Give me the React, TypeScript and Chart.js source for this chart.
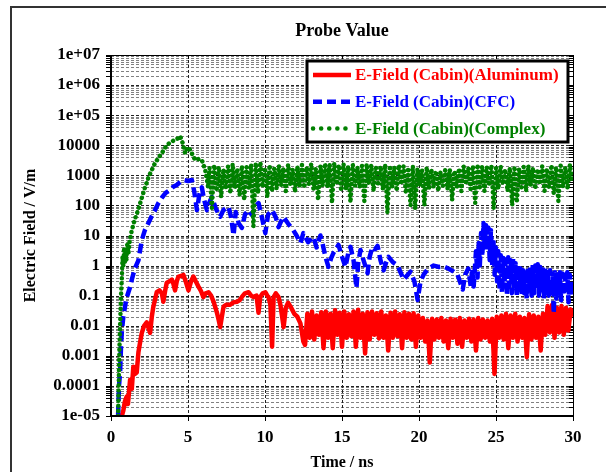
import React, { useEffect, useRef } from "react";
import { Chart, registerables } from "chart.js";

Chart.register(...registerables);

const FONT = '"Liberation Serif", "Times New Roman", serif';

const chartTitle = "Probe Value";
const xTitle = "Time / ns";
const yTitle = "Electric Field / V/m";

const seriesLabels = [
  "E-Field (Cabin)(Aluminum)",
  "E-Field (Cabin)(CFC)",
  "E-Field (Cabin)(Complex)",
];
const seriesColors = ["#ff0000", "#0000ff", "#008000"];

const xTickValues = [0, 5, 10, 15, 20, 25, 30];
const yTickValues = [1e-5, 1e-4, 1e-3, 1e-2, 1e-1, 1, 10, 100, 1000, 1e4, 1e5, 1e6, 1e7];
const yTickLabels = ["1e-05", "0.0001", "0.001", "0.01", "0.1", "1", "10", "100", "1000", "10000", "1e+05", "1e+06", "1e+07"];

// ---- Aluminum (red): [time ns, value]
const redEarly: [number, number][] = [
  [0.7, 1e-5], [0.8, 1.5e-5], [0.9, 3e-5], [1.02, 4.4e-5], [1.1, 2.5e-5], [1.24, 1.6e-4], [1.35, 8e-5],
  [1.45, 4.3e-4], [1.55, 2.5e-4], [1.67, 2.8e-4], [1.78, 1.3e-3], [1.9, 3e-3], [2.0, 5.8e-3], [2.15, 0.01],
  [2.32, 0.013], [2.45, 0.008], [2.54, 5.8e-3], [2.65, 0.02], [2.75, 0.043], [2.97, 0.13], [3.15, 0.15],
  [3.3, 0.12], [3.4, 0.063], [3.52, 0.15], [3.62, 0.27], [3.8, 0.3], [3.95, 0.34], [4.05, 0.25], [4.16, 0.15],
  [4.27, 0.3], [4.38, 0.43], [4.55, 0.45], [4.7, 0.49], [4.85, 0.3], [5.03, 0.15], [5.2, 0.3], [5.35, 0.43],
  [5.5, 0.3], [5.68, 0.2], [5.85, 0.14], [6.0, 0.09], [6.15, 0.12], [6.33, 0.13], [6.5, 0.1], [6.66, 0.063],
  [6.78, 0.04], [6.88, 0.027], [7.0, 0.015], [7.09, 0.009], [7.2, 0.02], [7.31, 0.043], [7.5, 0.05],
  [7.74, 0.05], [7.95, 0.06], [8.18, 0.063], [8.35, 0.07], [8.5, 0.091], [8.7, 0.12], [8.93, 0.13],
  [9.1, 0.1], [9.26, 0.091], [9.45, 0.1], [9.58, 0.027], [9.69, 0.091], [9.85, 0.12], [10.02, 0.13],
  [10.15, 0.1], [10.23, 0.09], [10.35, 0.05], [10.46, 0.002], [10.56, 0.09], [10.7, 0.12], [10.88, 0.09],
  [11.0, 0.05], [11.21, 0.009], [11.35, 0.04], [11.5, 0.058], [11.7, 0.04], [11.9, 0.025], [12.1, 0.02],
  [12.3, 0.012], [12.49, 0.003],
];
const redBandStart = 12.6;
const redBandStep = 0.15;
const redBand = [
  0.0023, 0.025, 0.004, 0.03, 0.0035, 0.022, 0.005, 0.028, 0.0018, 0.03,
  0.004, 0.025, 0.0018, 0.033, 0.005, 0.027, 0.002, 0.03, 0.004, 0.024,
  0.0045, 0.03, 0.002, 0.034, 0.004, 0.025, 0.0012, 0.028, 0.0035, 0.03,
  0.005, 0.026, 0.0038, 0.03, 0.004, 0.022, 0.0015, 0.027, 0.004, 0.03,
  0.0045, 0.024, 0.0018, 0.028, 0.004, 0.025, 0.0035, 0.026, 0.002, 0.022,
  0.004, 0.018, 0.003, 0.015, 0.0006, 0.017, 0.0035, 0.016, 0.004, 0.018,
  0.003, 0.015, 0.0018, 0.017, 0.004, 0.016, 0.0025, 0.018, 0.002, 0.015,
  0.004, 0.017, 0.003, 0.016, 0.0015, 0.018, 0.0035, 0.016, 0.004, 0.015,
  0.003, 0.017, 0.00025, 0.02, 0.004, 0.022, 0.0035, 0.025, 0.0018, 0.022,
  0.004, 0.025, 0.003, 0.02, 0.004, 0.018, 0.0009, 0.024, 0.0035, 0.022,
  0.004, 0.02, 0.0015, 0.025, 0.005, 0.045, 0.006, 0.05, 0.004, 0.04,
  0.006, 0.045, 0.005, 0.04, 0.007, 0.035, 0.02,
];

// ---- CFC (blue): [time ns, value]
const blueEarly: [number, number][] = [
  [0.46, 1e-5], [0.52, 1e-4], [0.59, 2.8e-4], [0.65, 2e-3], [0.7, 6e-3], [0.8, 0.02], [0.91, 0.043],
  [1.0, 0.08], [1.13, 0.13], [1.25, 0.2], [1.35, 0.34], [1.55, 0.8], [1.78, 1.5], [2.0, 7], [2.2, 15],
  [2.43, 26], [2.65, 45], [2.86, 70], [3.08, 120], [3.3, 180], [3.55, 260], [3.84, 330], [4.05, 420],
  [4.27, 480], [4.5, 600], [4.7, 700], [5.0, 650], [5.25, 700], [5.4, 300], [5.58, 70], [5.75, 250],
  [5.9, 400], [6.05, 150], [6.23, 70], [6.4, 130], [6.55, 190], [6.8, 80], [7.09, 42], [7.3, 70],
  [7.63, 90], [7.8, 40], [7.96, 10], [8.1, 60], [8.3, 25], [8.5, 18], [8.7, 50], [8.93, 70], [9.15, 48],
  [9.35, 90], [9.58, 120], [9.8, 40], [10.02, 12], [10.2, 50], [10.46, 70], [10.7, 40], [10.88, 19],
  [11.05, 30], [11.19, 42], [11.5, 25], [11.84, 15], [12.05, 10], [12.3, 5.6], [12.49, 12], [12.8, 6],
  [13.14, 9], [13.35, 4], [13.6, 10], [13.75, 5], [13.92, 2], [14.12, 0.9], [14.3, 1.8], [14.44, 2.6],
  [14.6, 3.5], [14.77, 4.9], [15.0, 2], [15.22, 0.9], [15.4, 2.5], [15.55, 4.2], [15.75, 1.5],
  [15.94, 0.18], [16.05, 1.2], [16.2, 3.3], [16.4, 1.5], [16.66, 0.56], [16.8, 2], [16.98, 4.2],
  [17.15, 3.5], [17.31, 4.5], [17.5, 1.5], [17.7, 0.7], [17.85, 1.2], [18.02, 1.95], [18.3, 1.3],
  [18.61, 1.0], [18.8, 0.6], [19.0, 0.34], [19.2, 0.45], [19.45, 0.63], [19.7, 0.3], [19.91, 0.072],
  [20.1, 0.3], [20.3, 0.5], [20.6, 0.8], [20.95, 1.0], [21.3, 0.9], [21.6, 0.93], [21.9, 0.8],
  [22.25, 0.63], [22.5, 0.5], [22.84, 0.16], [23.0, 0.5], [23.2, 0.8], [23.36, 0.2], [23.45, 0.8],
  [23.55, 0.2], [23.7, 3], [23.8, 0.4], [23.88, 5.6],
];
const blueBandStart = 23.95;
const blueBandStep = 0.08;
const blueBand = [
  1, 12, 2, 26, 4, 22, 3, 18, 1.5, 15, 1, 8, 0.5, 4, 0.3, 3,
  0.15, 2.2, 0.12, 1.8, 0.25, 1.6, 0.1, 1.9, 0.2, 1.5, 0.12, 1.7, 0.15, 1.2, 0.09, 1.0,
  0.15, 0.8, 0.1, 0.7, 0.12, 0.75, 0.08, 0.8, 0.15, 0.9, 0.1, 1.1, 0.12, 1.0, 0.18, 1.1,
  0.1, 0.9, 0.15, 1.0, 0.08, 0.8, 0.12, 0.6, 0.1, 0.7, 0.12, 0.55, 0.025, 0.6, 0.08, 0.5,
  0.12, 0.6, 0.07, 0.55, 0.1, 0.5, 0.15, 0.6, 0.06, 0.5, 0.1, 0.45,
];

// ---- Complex (green): [time ns, value]
const greenEarly: [number, number][] = [
  [0.46, 1e-5], [0.5, 1e-4], [0.55, 2e-3], [0.59, 0.01], [0.65, 0.1], [0.7, 0.35], [0.75, 2], [0.8, 1],
  [0.85, 4], [0.9, 1.2], [0.95, 3], [1.0, 1.5], [1.05, 5], [1.13, 2.5], [1.2, 6], [1.35, 15], [1.55, 35],
  [1.76, 70], [2.0, 180], [2.21, 400], [2.45, 900], [2.65, 1500], [2.85, 2500], [3.08, 3800], [3.35, 6000],
  [3.62, 10000], [3.9, 13000], [4.16, 15000], [4.35, 17000], [4.49, 20000], [4.65, 12000], [4.81, 5500],
  [4.9, 7000], [5.03, 8700], [5.2, 6000], [5.47, 3200], [5.7, 3500], [5.9, 3200], [6.12, 1500], [6.31, 400],
];
const greenBandStart = 6.4;
const greenBandStep = 0.15;
const greenBand = [
  1800, 83, 2200, 300, 1900, 190, 1600, 350, 2000, 250,
  2400, 400, 1700, 220, 2100, 150, 1900, 380, 2300, 20,
  2600, 250, 2800, 400, 1800, 190, 2200, 300, 1700, 350,
  2100, 450, 1800, 300, 2300, 500, 1600, 280, 2000, 420,
  2200, 380, 1900, 500, 2400, 350, 1700, 150, 2100, 450,
  2500, 400, 2300, 120, 2600, 500, 2200, 300, 2400, 350,
  2000, 125, 2300, 450, 1900, 400, 2100, 140, 2400, 500,
  2200, 300, 1800, 450, 2000, 350, 2300, 56, 2100, 400,
  1900, 300, 2200, 500, 2000, 250, 1800, 100, 2100, 75,
  1700, 450, 1500, 100, 1900, 350, 1600, 400, 1400, 300,
  1300, 450, 1500, 350, 1600, 150, 1400, 400, 1700, 300,
  2000, 500, 1800, 350, 2100, 120, 2300, 400, 2000, 300,
  1900, 450, 2200, 80, 1800, 350, 2000, 500, 1600, 300,
  1800, 100, 2000, 125, 1700, 400, 1900, 300, 2100, 450,
  1800, 350, 1600, 500, 2000, 300, 1700, 400, 2200, 250,
  1900, 140, 2100, 400, 1800, 350, 2300, 600,
];

type Pt = { x: number; y: number };
function buildSeries(early: [number, number][], start: number, step: number, band: number[]): Pt[] {
  const pts: Pt[] = early.map(([t, v]) => ({ x: t, y: v }));
  band.forEach((v, i) => pts.push({ x: +(start + i * step).toFixed(3), y: v }));
  return pts;
}

const lineStyles = [
  { width: 4.5, dash: [] as number[], legendDash: [] as number[], cap: "butt" as CanvasLineCap },
  { width: 4.5, dash: [10, 5], legendDash: [9, 5], cap: "butt" as CanvasLineCap },
  { width: 4.5, dash: [0.1, 5], legendDash: [0.1, 8], cap: "round" as CanvasLineCap },
];

const framePlugin = {
  id: "frame",
  beforeDraw(chart: any) {
    const ctx = chart.ctx as CanvasRenderingContext2D;
    ctx.save();
    ctx.fillStyle = "#ffffff";
    ctx.fillRect(0, 0, chart.width, chart.height);
    ctx.strokeStyle = "#333333";
    ctx.lineWidth = 2;
    ctx.beginPath();
    ctx.moveTo(11, chart.height);
    ctx.lineTo(11, 7);
    ctx.lineTo(chart.width, 7);
    ctx.stroke();
    const a = chart.chartArea;
    ctx.fillStyle = "#000";
    ctx.font = `bold 18px ${FONT}`;
    ctx.textAlign = "center";
    ctx.textBaseline = "middle";
    ctx.fillText(chartTitle, (a.left + a.right) / 2, 31);
    ctx.restore();
  },
};

function seg(ctx: CanvasRenderingContext2D, x1: number, y1: number, x2: number, y2: number) {
  ctx.beginPath();
  ctx.moveTo(x1, y1);
  ctx.lineTo(x2, y2);
  ctx.stroke();
}

const gridPlugin = {
  id: "dashGrid",
  beforeDatasetsDraw(chart: any) {
    const ctx = chart.ctx as CanvasRenderingContext2D;
    const a = chart.chartArea;
    const ys = chart.scales.y;
    const xs = chart.scales.x;
    ctx.save();
    ctx.lineWidth = 1;
    for (let e = -5; e <= 7; e++) {
      for (let m = 1; m <= 9; m++) {
        const v = m * Math.pow(10, e);
        if (v > 1e7 * 1.0001) break;
        const y = Math.round(ys.getPixelForValue(v)) + 0.5;
        if (v > 1e-5 * 1.0001 && v < 1e7 * 0.9999) {
          ctx.setLineDash([3, 2]);
          ctx.strokeStyle = m === 1 ? "#222222" : "#808080";
          seg(ctx, a.left, y, a.right, y);
        }
        ctx.setLineDash([]);
        ctx.strokeStyle = "#000";
        seg(ctx, a.left - 5, y, a.left, y);
        seg(ctx, a.right - 4, y, a.right, y);
      }
    }
    xTickValues.forEach((t) => {
      const x = Math.round(xs.getPixelForValue(t)) + 0.5;
      if (t > 0 && t < 30) {
        ctx.setLineDash([3, 2]);
        ctx.strokeStyle = "#222222";
        seg(ctx, x, a.top, x, a.bottom);
      }
      ctx.setLineDash([]);
      ctx.strokeStyle = "#000";
      seg(ctx, x, a.bottom, x, a.bottom + 5);
      seg(ctx, x, a.top, x, a.top + 4);
    });
    ctx.restore();
  },
  afterDatasetsDraw(chart: any) {
    const ctx = chart.ctx as CanvasRenderingContext2D;
    const a = chart.chartArea;
    ctx.save();
    ctx.setLineDash([]);
    ctx.strokeStyle = "#000";
    ctx.lineWidth = 1;
    seg(ctx, a.left, a.top + 0.5, a.right, a.top + 0.5);
    seg(ctx, a.right + 0.5, a.top, a.right + 0.5, a.bottom);
    ctx.lineWidth = 2;
    seg(ctx, a.left, a.top, a.left, a.bottom + 1);
    seg(ctx, a.left - 1, a.bottom, a.right + 1, a.bottom);
    ctx.restore();
  },
};

const legendPlugin = {
  id: "boxLegend",
  afterDraw(chart: any) {
    const ctx = chart.ctx as CanvasRenderingContext2D;
    const a = chart.chartArea;
    const bx = a.right - 266;
    const by = a.top + 6;
    const bw = 261;
    const bh = 81;
    ctx.save();
    ctx.fillStyle = "#ffffff";
    ctx.fillRect(bx, by, bw, bh);
    ctx.strokeStyle = "#000";
    ctx.lineWidth = 3;
    ctx.setLineDash([]);
    ctx.strokeRect(bx, by, bw, bh);
    ctx.font = `bold 17px ${FONT}`;
    ctx.textAlign = "left";
    ctx.textBaseline = "middle";
    seriesLabels.forEach((label, i) => {
      const y = by + 14 + i * 26.7;
      const st = lineStyles[i];
      ctx.strokeStyle = seriesColors[i];
      ctx.lineWidth = st.width;
      ctx.lineCap = st.cap;
      ctx.setLineDash(st.legendDash);
      seg(ctx, bx + 6, y, bx + 44, y);
      ctx.setLineDash([]);
      ctx.fillStyle = seriesColors[i];
      ctx.fillText(label, bx + 48, y + 1);
    });
    ctx.restore();
  },
};

export default function App() {
  const canvasRef = useRef<HTMLCanvasElement | null>(null);

  useEffect(() => {
    if (!canvasRef.current) return;
    const redData = buildSeries(redEarly, redBandStart, redBandStep, redBand);
    const blueData = buildSeries(blueEarly, blueBandStart, blueBandStep, blueBand);
    const greenData = buildSeries(greenEarly, greenBandStart, greenBandStep, greenBand);
    const all = [redData, blueData, greenData];
    // draw order: green on top, then blue, then red
    const datasets = [2, 1, 0].map((i) => ({
      label: seriesLabels[i],
      data: all[i],
      borderColor: seriesColors[i],
      backgroundColor: seriesColors[i],
      borderWidth: lineStyles[i].width,
      borderDash: lineStyles[i].dash,
      borderCapStyle: lineStyles[i].cap,
      borderJoinStyle: "round" as CanvasLineJoin,
      pointRadius: 0,
      tension: 0,
      fill: false,
    }));

    const chart = new Chart(canvasRef.current, {
      type: "line",
      data: { datasets },
      options: {
        animation: false,
        responsive: false,
        devicePixelRatio: 1,
        layout: { padding: { left: 0, top: 55, right: 33, bottom: 0 } },
        plugins: {
          legend: { display: false },
          title: { display: false },
          tooltip: { enabled: false },
        },
        scales: {
          x: {
            type: "linear",
            min: 0,
            max: 30,
            afterBuildTicks: (s: any) => {
              s.ticks = xTickValues.map((v) => ({ value: v }));
            },
            ticks: {
              autoSkip: false,
              maxRotation: 0,
              padding: 11,
              color: "#000",
              font: { family: FONT, size: 17, weight: "bold" },
              callback: (v: any) => String(v),
            },
            grid: { display: false, drawTicks: false },
            border: { display: false },
            title: {
              display: true,
              text: xTitle,
              color: "#000",
              font: { family: FONT, size: 16, weight: "bold" },
              padding: { top: 0, bottom: 0 },
            },
            afterFit: (s: any) => {
              s.height = 56;
            },
          },
          y: {
            type: "logarithmic",
            min: 1e-5,
            max: 1e7,
            afterBuildTicks: (s: any) => {
              s.ticks = yTickValues.map((v) => ({ value: v, major: true }));
            },
            ticks: {
              autoSkip: false,
              padding: 11,
              color: "#000",
              font: { family: FONT, size: 17, weight: "bold" },
              callback: (_v: any, idx: number) => yTickLabels[idx],
            },
            grid: { display: false, drawTicks: false },
            border: { display: false },
            title: {
              display: true,
              text: yTitle,
              color: "#000",
              font: { family: FONT, size: 16, weight: "bold" },
              padding: { top: 21, bottom: 0 },
            },
            afterFit: (s: any) => {
              s.width = 111;
            },
          },
        },
      },
      plugins: [framePlugin, gridPlugin, legendPlugin],
    } as any);

    return () => chart.destroy();
  }, []);

  return (
    <div style={{ position: "absolute", left: 0, top: 0, width: 606, height: 472, background: "#fff" }}>
      <canvas ref={canvasRef} width={606} height={472} style={{ display: "block", width: 606, height: 472 }} />
    </div>
  );
}
